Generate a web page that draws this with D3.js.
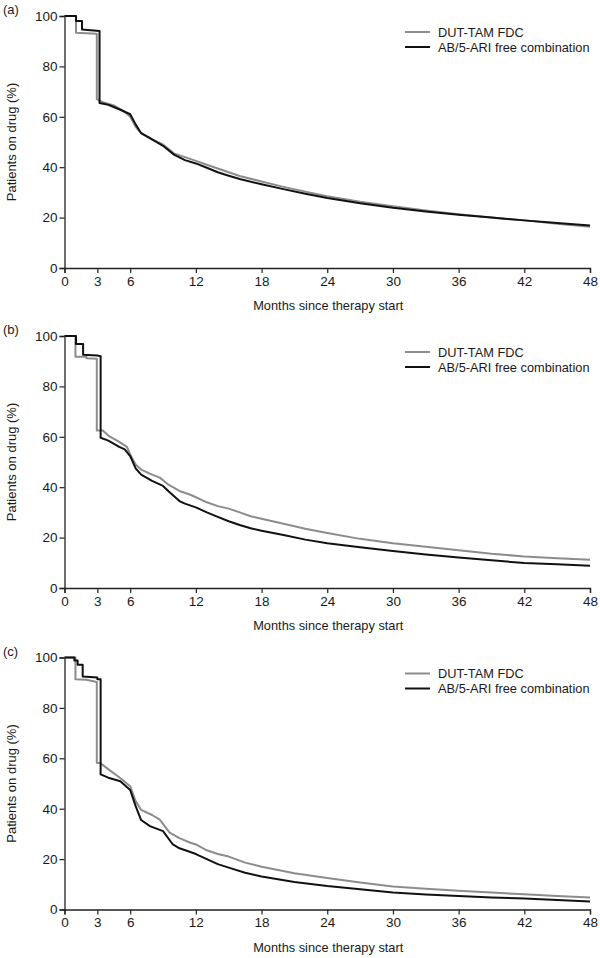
<!DOCTYPE html>
<html><head><meta charset="utf-8">
<script src="https://cdn.jsdelivr.net/npm/d3@7"></script>
<style>body{margin:0;background:#fff}svg{display:block}text{font-family:"Liberation Sans",Arial,sans-serif;fill:#1a1a1a}</style>
</head><body>
<svg id="c" width="600" height="958"></svg>
<script>
const panelLabels = ["(a)", "(b)", "(c)"];
const seriesNames = ["DUT-TAM FDC", "AB/5-ARI free combination"];
const xTicks = [0, 3, 6, 12, 18, 24, 30, 36, 42, 48];
const yTicks = [0, 20, 40, 60, 80, 100];

const grayA = [[0,100],[1.05,100],[1.05,93.4],[2.95,93],[2.95,67],[3.5,65.8],[4.5,64.5],[5.5,62],[6,60],[6.5,56],[7,53.5],[8,51],[9,49],[10,45.5],[11,44],[12,42.5],[13,41],[14,39.5],[15,38],[16,36.5],[18,34.3],[20,32.2],[22,30.3],[24,28.5],[27,26.3],[30,24.5],[33,22.8],[36,21.3],[39,20],[42,18.9],[45,17.6],[48,16.4]];
const blackA = [[0,100],[1.05,100],[1.05,98],[1.6,98],[1.6,94.6],[3.2,94],[3.2,65.5],[4,64.8],[5,63],[6,61],[6.5,57],[7,53.5],[8,51],[9,48.5],[10,45],[11,42.8],[12,41.5],[13,39.8],[14,38],[15,36.6],[16,35.3],[18,33.2],[20,31.3],[22,29.5],[24,27.8],[27,25.7],[30,23.9],[33,22.4],[36,21.1],[39,20],[42,18.9],[45,17.9],[48,16.9]];
const grayB = [[0,100],[1,100],[1,91.8],[2,91.8],[2,91.2],[2.95,91],[2.95,62.5],[3.5,62.5],[4,60.5],[5,58],[5.7,56],[6,53],[6.5,49],[7,47],[8,45],[8.7,43.8],[9.5,41],[10.5,38.5],[11.5,37],[12,36],[13,34],[14,32.5],[15,31.5],[16,30],[17,28.5],[18,27.5],[20,25.5],[22,23.5],[24,21.8],[27,19.5],[30,17.8],[33,16.4],[36,15],[39,13.6],[42,12.5],[45,11.8],[48,11.2]];
const blackB = [[0,100],[1.05,100],[1.05,96.8],[1.7,96.8],[1.7,92.6],[3,92.3],[3.3,92],[3.3,59.6],[4,58.5],[5,56],[5.5,55],[6,52.3],[6.5,47.5],[7,45],[8,42.5],[9,40.5],[9.6,38],[10.5,34.5],[11,33.5],[12,32],[13,30],[14,28.2],[15,26.5],[16,25],[17,23.7],[18,22.7],[20,21],[22,19.2],[24,17.8],[27,16.2],[30,14.7],[33,13.3],[36,12.1],[39,11],[42,9.9],[45,9.4],[48,8.8]];
const grayC = [[0,100],[1,100],[1,91.4],[2,91.2],[2.95,90.3],[2.95,58.2],[3.3,58],[3.6,57],[4.2,55],[5,52.5],[6,48.9],[6.5,43],[7,39.5],[8,37.5],[8.7,35.7],[9.6,30.5],[10.5,28.3],[11.5,26.5],[12,25.8],[13,23.5],[14,22],[15,21],[16.5,18.6],[18,17],[21,14.4],[24,12.5],[27,10.7],[30,9.1],[33,8.2],[36,7.4],[39,6.7],[42,6.1],[45,5.4],[48,4.8]];
const blackC = [[0,100],[0.9,100],[0.9,98.8],[1.2,98.8],[1.2,97.1],[1.66,97.1],[1.66,92.5],[3,92.1],[3,91.4],[3.3,91.4],[3.3,53.6],[4,52.3],[5.1,50.9],[6,47.4],[6.5,41],[7,35.5],[7.8,33.1],[9,31.1],[9.9,25.8],[10.5,24.3],[11.5,22.8],[12,22],[13,20],[14,18],[15,16.6],[16.5,14.6],[18,13.1],[21,10.9],[24,9.3],[27,8],[30,6.7],[33,6],[36,5.4],[39,4.8],[42,4.4],[45,3.8],[48,3.2]];

const panels = [
  {label: panelLabels[0], gray: grayA, black: blackA},
  {label: panelLabels[1], gray: grayB, black: blackB},
  {label: panelLabels[2], gray: grayC, black: blackC}
];
const colors = ["#8c8c8c", "#111"];

const svg = d3.select("#c");
const left = 64.5, right = 590, plotH = 252, tops = [16, 336, 657.5];
const x = d3.scaleLinear().domain([0, 48]).range([left, right]);

panels.forEach((p, i) => {
  const top = tops[i];
  const y = d3.scaleLinear().domain([0, 100]).range([top + plotH, top]);
  const g = svg.append("g");
  g.append("text").attr("x", 3).attr("y", top - 2).attr("font-size", 13).text(p.label);

  const xa = g.append("g").attr("transform", `translate(0,${top + plotH})`)
    .call(d3.axisBottom(x).tickValues(xTicks).tickSize(5).tickPadding(3).tickFormat(d3.format("d")));
  const ya = g.append("g").attr("transform", `translate(${left},0)`)
    .call(d3.axisLeft(y).tickValues(yTicks).tickSize(5).tickPadding(2));
  [xa, ya].forEach(a => {
    a.select(".domain").attr("stroke", "#222").attr("stroke-width", 1.3);
    a.selectAll(".tick line").attr("stroke", "#222").attr("stroke-width", 1.2);
    a.selectAll(".tick text").attr("font-size", 13.5).attr("fill", "#1a1a1a")
      .attr("font-family", "'Liberation Sans', Arial, sans-serif");
  });

  g.append("text").attr("x", (left + right) / 2 + 1).attr("y", top + plotH + 42)
    .attr("text-anchor", "middle").attr("font-size", 12.8).text("Months since therapy start");
  g.append("text").attr("transform", `translate(16,${top + plotH / 2}) rotate(-90)`)
    .attr("text-anchor", "middle").attr("font-size", 13).text("Patients on drug (%)");

  const line = d3.line().x(d => x(d[0])).y(d => y(d[1]));
  [p.gray, p.black].forEach((s, k) => {
    g.append("path").datum(s).attr("d", line).attr("fill", "none")
      .attr("stroke", colors[k]).attr("stroke-width", 2).attr("stroke-linejoin", "round");
  });

  seriesNames.forEach((n, k) => {
    const ly = top + 16 + k * 15;
    g.append("line").attr("x1", 405).attr("x2", 430).attr("y1", ly).attr("y2", ly)
      .attr("stroke", colors[k]).attr("stroke-width", 2);
    g.append("text").attr("x", 438).attr("y", ly + 4.5).attr("font-size", 12.8).text(n);
  });
});
</script>
</body></html>
